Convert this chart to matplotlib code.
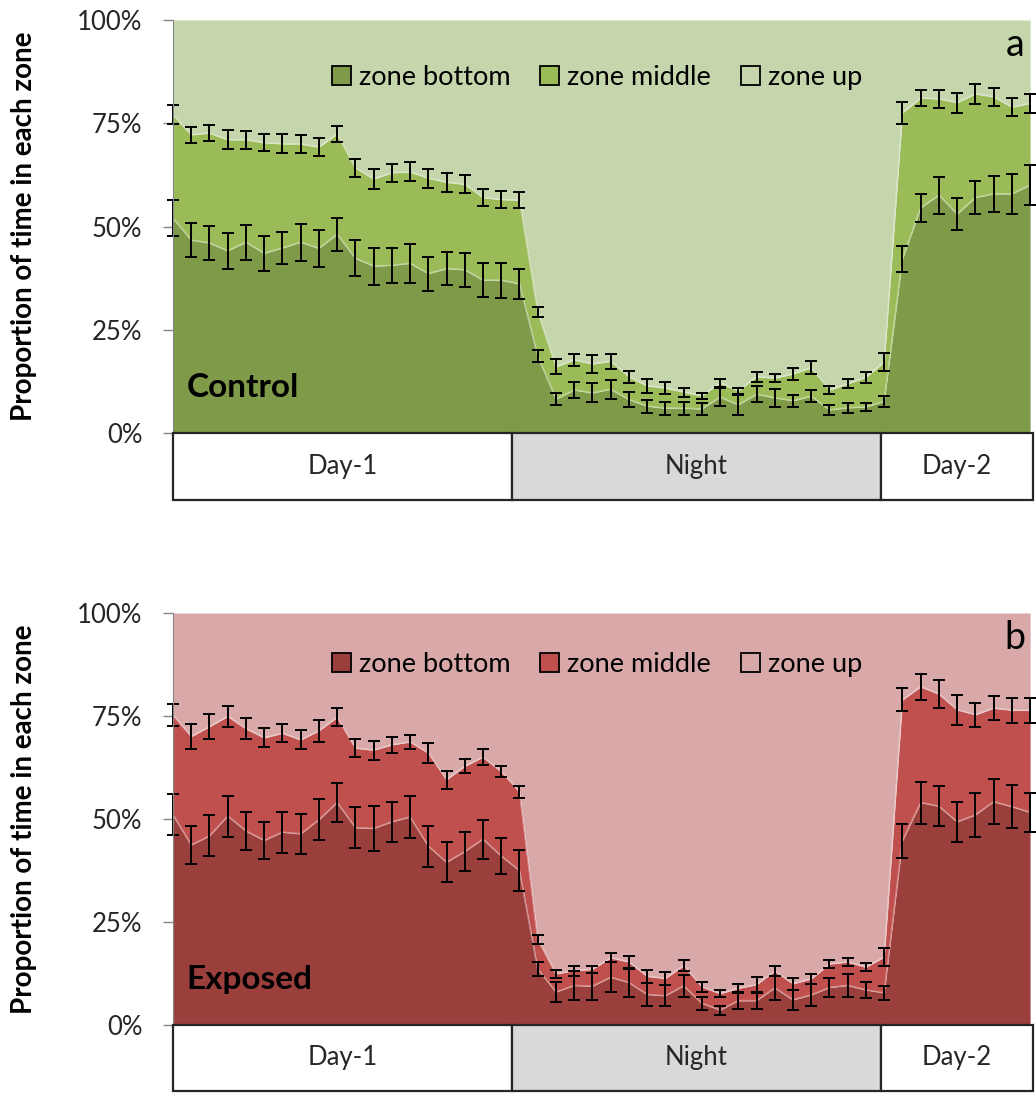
import numpy as np
import matplotlib
matplotlib.use('Agg')
import matplotlib.pyplot as plt
from matplotlib.patches import Rectangle, Patch
from matplotlib.ticker import PercentFormatter

plt.rcParams['font.family'] = ['Lato', 'DejaVu Sans']

# ---- data (percent of time) ----
# panel a : Control
ctrl_bottom = [52.0, 46.7, 46.0, 44.1, 46.2, 43.5, 44.8, 46.2, 44.7, 48.1,
               42.3, 40.4, 40.6, 41.1, 38.6, 39.8, 39.5, 37.0, 37.0, 36.1,
               18.6, 8.2, 10.4, 9.7, 10.6, 8.1, 6.5, 6.0, 6.0, 5.8,
               8.7, 6.8, 9.4, 8.5, 7.8, 8.9, 5.6, 6.1, 6.3, 7.7,
               42.1, 54.5, 57.6, 53.0, 57.0, 57.9, 57.9, 60.0]
ctrl_middle = [25.0, 25.5, 26.6, 26.9, 24.8, 26.8, 25.2, 23.8, 24.5, 24.3,
               21.9, 21.1, 22.4, 22.1, 23.1, 20.9, 20.7, 20.0, 19.5, 20.3,
               10.7, 7.8, 7.3, 7.0, 6.8, 5.5, 4.9, 4.9, 3.9, 3.2,
               3.4, 3.4, 4.2, 4.8, 6.5, 6.9, 4.8, 5.8, 7.2, 9.5,
               35.4, 26.6, 23.3, 27.0, 25.1, 23.5, 21.0, 19.8]
ctrl_bottom_err = [4.4, 4.1, 4.2, 4.3, 4.2, 4.2, 3.9, 4.5, 4.4, 4.0,
                   4.4, 4.5, 4.2, 4.7, 4.1, 4.0, 4.2, 4.1, 4.2, 3.7,
                   1.4, 1.5, 2.0, 2.3, 2.3, 1.8, 1.6, 1.6, 1.6, 1.4,
                   2.2, 2.4, 2.0, 2.1, 1.5, 1.5, 1.3, 1.2, 1.0, 1.3,
                   3.2, 3.4, 4.5, 3.9, 3.9, 4.4, 4.9, 4.8]
ctrl_middle_err = [2.3, 2.0, 2.0, 2.3, 2.2, 2.1, 2.3, 2.1, 2.2, 2.0,
                   2.2, 2.5, 2.2, 2.3, 2.3, 2.3, 2.2, 2.0, 2.1, 2.0,
                   1.3, 1.8, 1.5, 2.1, 1.8, 1.4, 1.6, 1.5, 1.1, 0.8,
                   0.9, 0.7, 1.2, 1.0, 1.5, 1.6, 1.0, 1.1, 1.3, 2.1,
                   2.6, 2.0, 2.2, 2.4, 2.4, 2.2, 2.2, 2.2]

# panel b : Exposed
expo_bottom = [51.0, 43.7, 45.9, 50.7, 47.1, 44.8, 46.8, 46.4, 49.8, 54.0,
               47.9, 47.7, 49.3, 50.5, 43.4, 39.5, 42.1, 45.1, 41.0, 37.5,
               13.6, 8.0, 9.6, 9.4, 11.6, 10.3, 7.4, 7.1, 9.5, 5.3,
               3.6, 5.9, 5.9, 9.0, 6.1, 7.3, 9.1, 9.6, 8.5, 7.8,
               44.7, 54.0, 53.1, 49.3, 51.0, 54.2, 53.0, 51.6]
expo_middle = [24.2, 26.3, 26.5, 24.2, 24.8, 24.9, 24.0, 22.8, 21.6, 20.7,
               19.3, 19.0, 18.7, 18.2, 22.6, 20.0, 20.7, 19.9, 20.5, 19.1,
               7.2, 4.4, 3.6, 4.1, 4.7, 5.0, 4.4, 4.2, 4.9, 4.0,
               4.0, 3.0, 3.9, 4.1, 3.9, 3.9, 5.7, 5.7, 5.5, 8.7,
               34.2, 28.1, 27.2, 27.2, 24.3, 22.7, 23.4, 24.8]
expo_bottom_err = [5.0, 4.7, 5.0, 5.0, 4.7, 4.5, 5.0, 4.9, 5.0, 4.7,
                   5.0, 5.5, 4.9, 5.2, 5.0, 4.9, 4.7, 4.7, 4.3, 4.9,
                   1.7, 2.5, 3.5, 3.3, 3.6, 3.4, 2.9, 2.6, 2.6, 1.6,
                   1.1, 1.9, 1.9, 2.9, 2.4, 2.7, 2.2, 2.8, 2.0, 1.7,
                   4.2, 5.1, 4.8, 4.9, 5.3, 5.4, 5.3, 4.7]
expo_middle_err = [2.7, 3.0, 3.0, 2.5, 2.5, 2.3, 2.2, 2.3, 2.6, 2.2,
                   2.2, 2.3, 2.0, 1.7, 2.5, 2.2, 1.7, 2.0, 1.4, 1.5,
                   1.1, 1.0, 1.2, 0.9, 1.1, 1.5, 1.5, 1.6, 1.4, 1.2,
                   0.9, 1.0, 1.9, 1.2, 1.4, 1.2, 1.0, 0.9, 1.0, 2.3,
                   2.8, 3.2, 3.4, 3.7, 2.9, 2.9, 3.0, 3.0]

periods = ['Day-1', 'Night', 'Day-2']
period_edges = [0, 18.6, 38.8, 47.16]
period_fill = ['white', '#D9D9D9', 'white']
zones = ['zone bottom', 'zone middle', 'zone up']

W, H = 1036, 1093
fig = plt.figure(figsize=(W / 100, H / 100), dpi=100)


def px_axes(x0, y0, x1, y1):
    # pixel box (top-left origin) -> figure axes
    return fig.add_axes([x0 / W, 1 - y1 / H, (x1 - x0) / W, (y1 - y0) / H])


def panel(ax, tab, bottom, middle, err_b, err_m, colors, letter, group, leg_y):
    x = np.arange(len(bottom))
    b = np.array(bottom)
    top = b + np.array(middle)
    ax.fill_between(x, 0, b, color=colors[0], lw=0)
    ax.fill_between(x, b, top, color=colors[1], lw=0)
    ax.fill_between(x, top, 100, color=colors[2], lw=0)
    ax.plot(x, b, color='white', alpha=0.35, lw=1.2)
    ax.plot(x, top, color='white', alpha=0.35, lw=1.2)
    for yv, ev in ((b, err_b), (top, err_m)):
        eb = ax.errorbar(x, yv, yerr=ev, fmt='none', ecolor='black',
                         elinewidth=1.4, capsize=4.5, capthick=1.4)
        for art in list(eb.lines[1]) + list(eb.lines[2]):
            art.set_clip_on(False)
    ax.set_xlim(0, 47.16)
    ax.set_ylim(0, 100)
    ax.set_yticks([0, 25, 50, 75, 100])
    ax.yaxis.set_major_formatter(PercentFormatter(decimals=0))
    ax.tick_params(axis='y', length=7, width=1, color='#868686', pad=15,
                   labelsize=18.5, labelcolor='#262626')
    ax.set_xticks([])
    for s in ('top', 'right', 'bottom'):
        ax.spines[s].set_visible(False)
    ax.spines['left'].set_color('#868686')
    ax.set_ylabel('Proportion of time in each zone', fontsize=20,
                  fontweight='bold')
    ax.yaxis.set_label_coords(-0.158, 0.5)
    ax.text(0.016, 0.11, group, transform=ax.transAxes, fontsize=24,
            fontweight='bold', va='center', ha='left')
    ax.text(0.979, 0.94, letter, transform=ax.transAxes, fontsize=27,
            va='center', ha='center')
    handles = [Patch(facecolor=c, edgecolor='black', lw=1.3) for c in colors]
    ax.legend(handles, zones, loc='center', bbox_to_anchor=(0.493, leg_y),
              ncol=3, frameon=False, fontsize=19.5, handlelength=0.7,
              handleheight=0.7, handletextpad=0.3, columnspacing=1.1)

    # period table under the axis
    tab.set_xlim(ax.get_xlim())
    tab.set_ylim(0, 1)
    tab.axis('off')
    for i, name in enumerate(periods):
        x0, x1 = period_edges[i], period_edges[i + 1]
        tab.add_patch(Rectangle((x0, 0), x1 - x0, 1, facecolor=period_fill[i],
                                edgecolor='#262626', lw=1.6, clip_on=False))
        tab.text((x0 + x1) / 2, 0.5, name, ha='center', va='center',
                 fontsize=18.5, color='#262626')


ax_a = px_axes(173, 20, 1033, 433)
tab_a = px_axes(173, 433, 1033, 500)
panel(ax_a, tab_a, ctrl_bottom, ctrl_middle, ctrl_bottom_err, ctrl_middle_err,
      ['#7F9A48', '#9BBB59', '#C5D6AC'], 'a', 'Control', 0.86)

ax_b = px_axes(173, 613, 1033, 1025)
tab_b = px_axes(173, 1025, 1033, 1091)
panel(ax_b, tab_b, expo_bottom, expo_middle, expo_bottom_err, expo_middle_err,
      ['#9B3F3D', '#C0504D', '#D9A9A9'], 'b', 'Exposed', 0.874)

fig.savefig('out.png', dpi=100)
